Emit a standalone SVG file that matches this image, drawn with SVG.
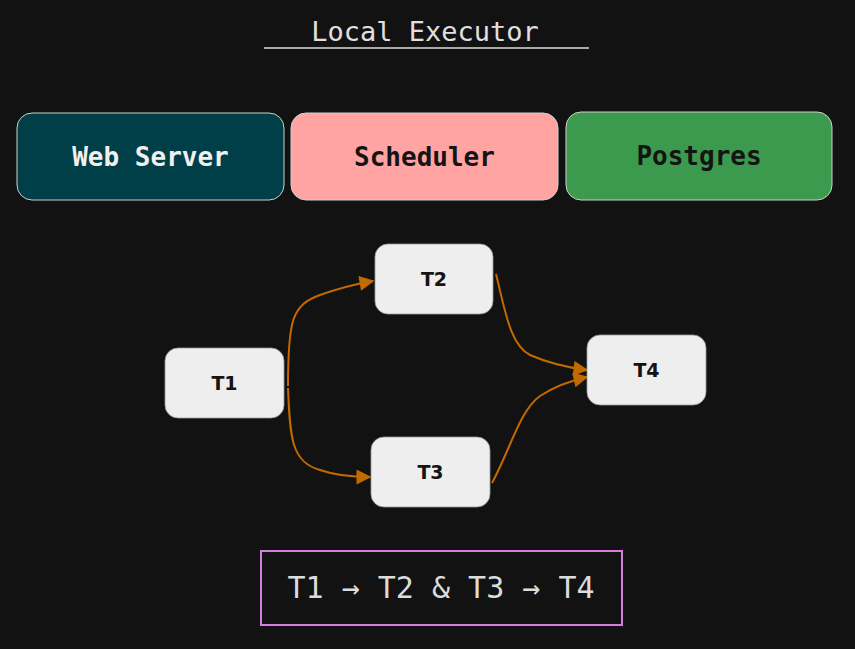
<svg xmlns="http://www.w3.org/2000/svg" width="855" height="649" viewBox="0 0 855 649">
<defs>
<style>
.mono{font-family:"DejaVu Sans Mono","Liberation Mono",monospace;}
.big{stroke:#cfcfcf;stroke-width:1;}
.lbl{font-size:26px;font-weight:bold;text-anchor:middle;dominant-baseline:central;}
.task rect{fill:#eeeeee;stroke:#9a9a9a;stroke-width:0.8;}
.task text{font-family:"DejaVu Sans","Noto Sans",sans-serif;font-weight:bold;font-size:19px;fill:#141414;text-anchor:middle;dominant-baseline:central;}
.edge{fill:none;stroke:#c26a00;stroke-width:2;marker-end:url(#ah);}
</style>
<marker id="ah" viewBox="0 0 10 10" refX="9" refY="5" markerWidth="8" markerHeight="7.5" orient="auto" markerUnits="strokeWidth">
<path d="M0,0 L10,5 L0,10 Z" fill="#c26a00"/>
</marker>
</defs>
<rect width="855" height="649" fill="#121212"/>
<g id="title">
<text x="425" y="31" class="mono" font-size="27" fill="#e0e0e0" text-anchor="middle" dominant-baseline="central">Local Executor</text>
<line x1="264" y1="48" x2="589" y2="48" stroke="#dddddd" stroke-width="1.5"/>
</g>
<g id="webserver">
<rect x="17" y="113" width="267" height="87" rx="15" fill="#003f47" class="big"/>
<text x="150.5" y="156.5" class="mono lbl" fill="#f0f0f0">Web Server</text>
</g>
<g id="scheduler">
<rect x="291" y="113" width="267" height="87" rx="15" fill="#ffa3a3" class="big"/>
<text x="424.5" y="156.5" class="mono lbl" fill="#141414">Scheduler</text>
</g>
<g id="postgres">
<rect x="566" y="112" width="266" height="88" rx="15" fill="#3c9a4e" class="big"/>
<text x="699" y="156" class="mono lbl" fill="#141414">Postgres</text>
</g>
<g id="connectors">
<path class="edge" d="M288,386 C288,320 292,305 320,295 Q345,286 373,281"/>
<path class="edge" d="M288,388 C290,440 292,462 320,470 Q340,477 370,477"/>
<path class="edge" d="M496,274 C505,310 510,345 530,355 Q555,366 587,370"/>
<path class="edge" d="M492,483 C510,450 520,410 540,396 Q560,383 587,377"/>
</g>
<g id="t1" class="task">
<rect x="165" y="348" width="119" height="70" rx="13"/>
<text x="224.5" y="383">T1</text>
</g>
<g id="t2" class="task">
<rect x="375" y="244" width="118" height="70" rx="13"/>
<text x="434" y="279">T2</text>
</g>
<g id="t3" class="task">
<rect x="371" y="437" width="119" height="70" rx="13"/>
<text x="430.5" y="472">T3</text>
</g>
<g id="t4" class="task">
<rect x="587" y="335" width="119" height="70" rx="13"/>
<text x="646.5" y="370">T4</text>
</g>
<g id="summary">
<rect x="261" y="551" width="361" height="74" fill="none" stroke="#d57ee0" stroke-width="2"/>
<text x="441" y="587" class="mono" font-size="30" fill="#dcdcdc" text-anchor="middle" dominant-baseline="central">T1 → T2 &amp; T3 → T4</text>
</g>
</svg>
